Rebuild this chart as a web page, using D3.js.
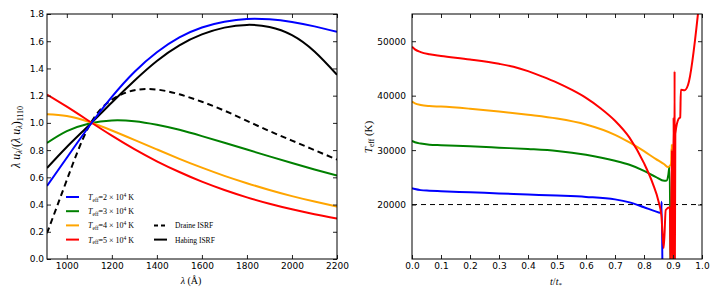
<!DOCTYPE html>
<html>
<head>
<meta charset="utf-8">
<script src="https://cdn.jsdelivr.net/npm/d3@7"></script>
<style>
  body { margin: 0; background: #fff; }
  .tick text { font-family: "DejaVu Sans", sans-serif; font-size: 9px; fill: #000; }
  .tick line { stroke: #222; }
  .domain { stroke: none; }
  .lbl { font-family: "Liberation Serif", "DejaVu Serif", serif; fill: #000; }
</style>
</head>
<body>
<div id="root"></div>
<script>
// left panel: normalised spectra vs wavelength (Angstrom)
const lambda = [912, 1000, 1100, 1200, 1300, 1400, 1500, 1600, 1700, 1800, 1900, 2000, 2100, 2200];
const teff2 = [0.536, 0.744, 0.977, 1.191, 1.374, 1.519, 1.628, 1.701, 1.743, 1.764, 1.761, 1.741, 1.709, 1.669];
const teff3 = [0.852, 0.939, 0.996, 1.018, 1.012, 0.986, 0.949, 0.903, 0.854, 0.804, 0.754, 0.705, 0.658, 0.613];
const teff4 = [1.063, 1.050, 1.006, 0.944, 0.875, 0.805, 0.736, 0.671, 0.611, 0.557, 0.507, 0.462, 0.422, 0.385];
const teff5 = [1.208, 1.119, 1.012, 0.906, 0.807, 0.718, 0.639, 0.568, 0.507, 0.453, 0.406, 0.365, 0.329, 0.297];
const draine = [0.19, 0.58, 0.98, 1.17, 1.24, 1.245, 1.21, 1.155, 1.09, 1.015, 0.94, 0.87, 0.80, 0.73];
const habing = [0.668, 0.823, 0.985, 1.15, 1.31, 1.455, 1.57, 1.65, 1.70, 1.72, 1.705, 1.645, 1.525, 1.354];
const leftYTicks = [0, 0.2, 0.4, 0.6, 0.8, 1.0, 1.2, 1.4, 1.6, 1.8];
const leftXTicks = [1000, 1200, 1400, 1600, 1800, 2000, 2200];

// right panel: T_eff vs t/t_*
const tBlue = [0, 0.01, 0.03, 0.06, 0.1, 0.2, 0.3, 0.4, 0.5, 0.6, 0.7, 0.75, 0.8, 0.84, 0.855, 0.859, 0.861, 0.864];
const TBlue = [23000, 22850, 22650, 22550, 22450, 22250, 22050, 21850, 21650, 21400, 20950, 20400, 19500, 18750, 18500, 18700, 20500, 5000];
const tGreen = [0, 0.01, 0.03, 0.06, 0.1, 0.2, 0.3, 0.4, 0.5, 0.6, 0.7, 0.75, 0.8, 0.84, 0.87, 0.878, 0.884, 0.888, 0.892];
const TGreen = [31700, 31450, 31200, 31000, 30900, 30700, 30450, 30200, 29850, 29150, 28050, 27300, 26200, 25100, 24350, 24400, 25500, 27000, 5000];
const tOrange = [0, 0.01, 0.03, 0.06, 0.1, 0.2, 0.3, 0.4, 0.5, 0.6, 0.7, 0.75, 0.8, 0.84, 0.87, 0.883, 0.893, 0.896, 0.899];
const TOrange = [38900, 38600, 38300, 38100, 38000, 37600, 37100, 36500, 35800, 34700, 32800, 31400, 29800, 28400, 27400, 26900, 27400, 31000, 5000];
const tRed = [0, 0.01, 0.03, 0.06, 0.1, 0.2, 0.3, 0.35, 0.4, 0.45, 0.5, 0.55, 0.6, 0.65, 0.7, 0.75, 0.8, 0.83, 0.85, 0.86, 0.868, 0.875, 0.889, 0.892, 0.896, 0.899, 0.902, 0.904, 0.9055, 0.9065, 0.908, 0.92, 0.925, 0.927, 0.94, 0.952, 0.99];
const TRed = [49000, 48500, 48000, 47600, 47300, 46650, 45850, 45300, 44500, 43500, 42400, 41100, 39600, 37700, 35400, 32300, 27600, 23900, 20600, 17900, 12000, 19000, 19500, 8000, 30000, 8000, 36000, 9000, 44500, 9000, 33000, 35800, 36000, 41100, 41000, 42000, 57000];
const critT = 20000;
const rightYTicks = [20000, 30000, 40000, 50000];
const rightXTicks = [0, 0.1, 0.2, 0.3, 0.4, 0.5, 0.6, 0.7, 0.8, 0.9, 1.0];

const width = 720, height = 300;
const plotTop = 14, plotBottom = 259;

const svg = d3.select("#root").append("svg")
    .attr("width", width)
    .attr("height", height);

function frame(g, x, y, xTicks, yTicks, xFmt, yFmt, yPad) {
    const [x0, x1] = x.range();
    g.append("g").attr("transform", "translate(0," + plotBottom + ")")
        .call(d3.axisBottom(x).tickValues(xTicks).tickSize(-4).tickPadding(4).tickFormat(xFmt));
    g.append("g").attr("transform", "translate(0," + plotTop + ")")
        .call(d3.axisTop(x).tickValues(xTicks).tickSize(-4).tickFormat(""));
    g.append("g").attr("transform", "translate(" + x0 + ",0)")
        .call(d3.axisLeft(y).tickValues(yTicks).tickSize(-4).tickPadding(yPad).tickFormat(yFmt));
    g.append("g").attr("transform", "translate(" + x1 + ",0)")
        .call(d3.axisRight(y).tickValues(yTicks).tickSize(-4).tickFormat(""));
    g.append("rect")
        .attr("x", x0).attr("y", plotTop)
        .attr("width", x1 - x0).attr("height", plotBottom - plotTop)
        .attr("fill", "none").attr("stroke", "#000").attr("stroke-width", 1);
}

// ---------- left panel ----------
const xL = d3.scaleLinear().domain([912, 2200]).range([47, 337]);
const yL = d3.scaleLinear().domain([0, 1.8]).range([plotBottom, plotTop]);
const gL = svg.append("g");

gL.append("clipPath").attr("id", "clipL").append("rect")
    .attr("x", 47).attr("y", plotTop).attr("width", 290).attr("height", plotBottom - plotTop);

const lineL = d3.line()
    .x((d, i) => xL(lambda[i]))
    .y(d => yL(d))
    .curve(d3.curveNatural);

const leftSeries = [
    { v: draine, color: "#000", dash: "6,4" },
    { v: habing, color: "#000" },
    { v: teff3, color: "#008000" },
    { v: teff4, color: "#ffa500" },
    { v: teff5, color: "#ff0000" },
    { v: teff2, color: "#0000ff" }
];
gL.append("g").attr("clip-path", "url(#clipL)")
    .selectAll("path").data(leftSeries).enter().append("path")
    .attr("d", d => lineL(d.v))
    .attr("fill", "none")
    .attr("stroke", d => d.color)
    .attr("stroke-width", 2)
    .attr("stroke-dasharray", d => d.dash || null);

frame(gL, xL, yL, leftXTicks, leftYTicks, d3.format("d"), d3.format(".1f"), 3);

// legend
const legT = [
    { n: "2", color: "#0000ff" },
    { n: "3", color: "#008000" },
    { n: "4", color: "#ffa500" },
    { n: "5", color: "#ff0000" }
];
const leg = gL.append("g");
legT.forEach((d, i) => {
    const yy = 197 + i * 14.2;
    leg.append("line").attr("x1", 66).attr("x2", 79).attr("y1", yy).attr("y2", yy)
        .attr("stroke", d.color).attr("stroke-width", 2);
    const t = leg.append("text").attr("class", "lbl").attr("x", 88).attr("y", yy + 3)
        .style("font-size", "8px");
    t.append("tspan").style("font-style", "italic").text("T");
    t.append("tspan").attr("dy", 1.5).style("font-size", "5.5px").text("eff");
    t.append("tspan").attr("dy", -1.5).text("=" + d.n + " × 10");
    t.append("tspan").attr("dy", -3).style("font-size", "5.5px").text("4");
    t.append("tspan").attr("dy", 3).text(" K");
});
[{ name: "Draine ISRF", dash: "4,3", y: 225.4 }, { name: "Habing ISRF", dash: null, y: 239.6 }].forEach(d => {
    leg.append("line").attr("x1", 154).attr("x2", 167).attr("y1", d.y).attr("y2", d.y)
        .attr("stroke", "#000").attr("stroke-width", 2)
        .attr("stroke-dasharray", d.dash);
    leg.append("text").attr("class", "lbl").attr("x", 175).attr("y", d.y + 3)
        .style("font-size", "7.5px").text(d.name);
});

// axis labels
gL.append("text").attr("class", "lbl")
    .attr("x", 191).attr("y", 284).attr("text-anchor", "middle")
    .style("font-size", "10px")
    .html('<tspan font-style="italic">λ</tspan> (Å)');
const yl = gL.append("text").attr("class", "lbl")
    .attr("transform", "translate(20,137) rotate(-90)")
    .attr("text-anchor", "middle")
    .style("font-size", "12px");
yl.append("tspan").style("font-style", "italic").text("λ u");
yl.append("tspan").attr("dy", 2).style("font-size", "8px").style("font-style", "italic").text("λ");
yl.append("tspan").attr("dy", -2).text("/(");
yl.append("tspan").style("font-style", "italic").text("λ u");
yl.append("tspan").attr("dy", 2).style("font-size", "8px").style("font-style", "italic").text("λ");
yl.append("tspan").attr("dy", -2).text(")");
yl.append("tspan").attr("dy", 3).style("font-size", "8px").text("1110");

// ---------- right panel ----------
const xR = d3.scaleLinear().domain([0, 1]).range([412, 702]);
const yR = d3.scaleLinear().domain([10000, 55000]).range([plotBottom, plotTop]);
const gR = svg.append("g");

gR.append("clipPath").attr("id", "clipR").append("rect")
    .attr("x", 412).attr("y", plotTop).attr("width", 290).attr("height", plotBottom - plotTop);

const lineR = d3.line().x(d => xR(d[0])).y(d => yR(d[1])).curve(d3.curveMonotoneX);
const rightSeries = [
    { t: tBlue, T: TBlue, color: "#0000ff" },
    { t: tGreen, T: TGreen, color: "#008000" },
    { t: tOrange, T: TOrange, color: "#ffa500" },
    { t: tRed, T: TRed, color: "#ff0000" }
];
const plotR = gR.append("g").attr("clip-path", "url(#clipR)");
plotR.append("line")
    .attr("x1", xR(0)).attr("x2", xR(1))
    .attr("y1", yR(critT)).attr("y2", yR(critT))
    .attr("stroke", "#000").attr("stroke-width", 1).attr("stroke-dasharray", "5,4");
plotR.selectAll("path.s").data(rightSeries).enter().append("path")
    .attr("class", "s")
    .attr("d", d => lineR(d.t.map((t, i) => [t, d.T[i]])))
    .attr("fill", "none")
    .attr("stroke", d => d.color)
    .attr("stroke-width", 2)
    .attr("stroke-linejoin", "round");

frame(gR, xR, yR, rightXTicks, rightYTicks, d3.format(".1f"), d3.format("d"), 6);

gR.append("text").attr("class", "lbl")
    .attr("x", 556).attr("y", 285).attr("text-anchor", "middle")
    .style("font-size", "10px")
    .html('<tspan font-style="italic">t</tspan>/<tspan font-style="italic">t</tspan><tspan dy="2" font-size="7px">*</tspan>');
const yr = gR.append("text").attr("class", "lbl")
    .attr("transform", "translate(372,137) rotate(-90)")
    .attr("text-anchor", "middle")
    .style("font-size", "11px");
yr.append("tspan").style("font-style", "italic").text("T");
yr.append("tspan").attr("dy", 2).style("font-size", "7.5px").text("eff");
yr.append("tspan").attr("dy", -2).text(" (K)");
</script>
</body>
</html>
